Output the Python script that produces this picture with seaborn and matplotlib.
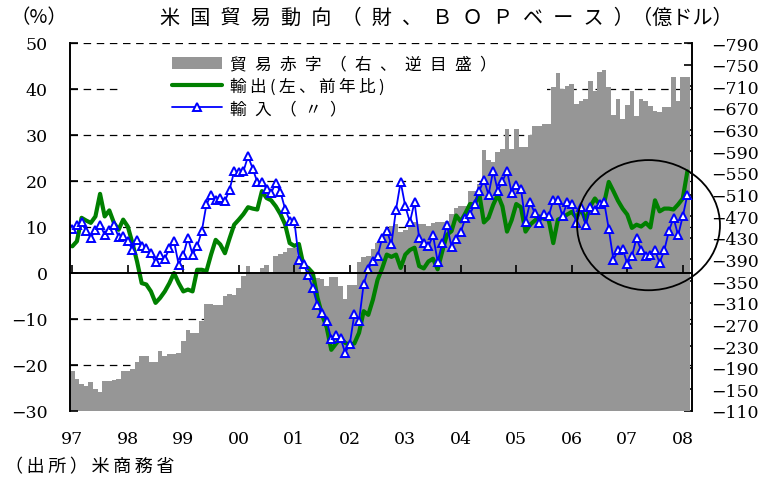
import numpy as np
import pandas as pd
import matplotlib
matplotlib.use("Agg")
import matplotlib.pyplot as plt
import matplotlib.transforms as mtransforms
from matplotlib.patches import Ellipse, Rectangle, Patch
from matplotlib.font_manager import FontProperties
import seaborn as sns

# Monthly data, Jan 1997 - Feb 2008
# exports / imports: year-on-year change (%), left axis
exports = [5.8, 6.9, 12.0, 11.4, 10.9, 12.3, 17.2, 12.3, 13.6, 10.9,
           9.4, 11.6, 10.1, 6.5, 2.5, -2.2, -2.5, -4.0, -6.5, -5.4,
           -4.0, -2.2, 0.0, -2.2, -4.0, -3.6, -4.0, 0.7, 0.7, 0.4,
           4.0, 7.2, 6.2, 4.3, 7.5, 10.5, 11.6, 12.8, 14.3, 14.0,
           13.8, 17.8, 16.3, 15.8, 14.5, 12.8, 10.6, 6.5, 5.9, 6.3,
           1.6, 1.1, 0.0, -5.3, -9.1, -11.8, -16.7, -15.4, -14.1, -15.2,
           -15.6, -15.3, -13.0, -8.3, -9.1, -5.8, -1.5, 1.0, 4.0, 3.5,
           4.0, 1.1, 4.0, 5.0, 5.5, 1.5, 1.0, 2.5, 3.1, 0.8,
           4.7, 8.3, 9.1, 12.5, 11.2, 13.0, 15.0, 14.9, 17.2, 11.0,
           12.0, 14.8, 17.0, 14.5, 9.0, 11.5, 15.0, 14.3, 9.0, 10.5,
           11.4, 12.3, 11.8, 11.6, 6.5, 11.6, 12.0, 12.7, 13.3, 12.0,
           14.0, 11.4, 14.5, 16.2, 14.9, 15.2, 19.8, 17.8, 15.7, 14.0,
           12.7, 9.8, 10.5, 10.1, 10.9, 9.9, 15.8, 13.4, 14.0, 14.0,
           13.8, 14.9, 16.2, 22.1]

imports = [9.6, 10.5, 11.0, 9.2, 7.6, 9.4, 10.5, 8.3, 9.4, 10.5,
           7.8, 8.1, 6.9, 5.1, 7.2, 5.8, 5.4, 4.3, 2.3, 4.0,
           3.1, 5.4, 6.9, 1.8, 4.0, 7.6, 4.0, 5.8, 9.1, 14.9,
           16.9, 15.9, 16.4, 15.6, 18.1, 22.1, 22.0, 22.1, 25.4, 22.7,
           19.8, 19.8, 18.3, 17.4, 19.6, 17.6, 14.0, 11.4, 11.4, 2.9,
           2.0, -0.5, -3.3, -6.9, -8.7, -10.4, -14.3, -13.4, -14.1, -17.4,
           -15.4, -8.9, -10.4, -2.4, 0.9, 2.7, 3.6, 7.6, 9.2, 6.2,
           13.8, 19.8, 14.5, 11.1, 15.4, 7.6, 6.5, 5.8, 8.2, 2.5,
           6.5, 10.5, 5.6, 7.5, 8.9, 12.0, 12.8, 15.0, 17.8, 20.3,
           17.0, 22.2, 17.9, 19.9, 22.2, 17.4, 19.2, 18.3, 11.1, 15.4,
           13.0, 10.9, 12.8, 12.3, 15.9, 15.9, 12.3, 15.4, 15.1, 10.9,
           14.3, 10.4, 14.3, 13.8, 14.9, 15.4, 9.6, 2.9, 4.9, 5.3,
           2.0, 3.6, 7.6, 4.9, 3.8, 4.0, 4.9, 2.2, 4.9, 9.1,
           12.0, 8.2, 12.3, 17.0]

# trade balance (100 million USD), right axis, inverted
deficit = [-184, -169, -160, -157, -163, -151, -146, -166, -166, -168,
           -169, -183, -183, -188, -201, -212, -212, -200, -201, -221,
           -211, -215, -215, -218, -240, -260, -255, -255, -277, -308,
           -308, -305, -305, -323, -326, -325, -338, -360, -378, -363,
           -363, -375, -380, -363, -397, -400, -403, -412, -412, -397,
           -366, -366, -354, -355, -354, -341, -358, -357, -341, -317,
           -343, -343, -386, -395, -397, -409, -421, -424, -434, -452,
           -455, -440, -445, -462, -460, -455, -455, -452, -458, -460,
           -460, -462, -474, -486, -489, -489, -517, -517, -529, -593,
           -573, -571, -588, -594, -631, -594, -631, -597, -597, -620,
           -637, -637, -640, -640, -708, -735, -705, -711, -714, -677,
           -683, -687, -720, -702, -737, -741, -708, -657, -687, -650,
           -675, -702, -656, -687, -683, -674, -665, -662, -672, -672,
           -727, -683, -727, -727]

year_labels = ["97", "98", "99", "00", "01", "02", "03", "04",
               "05", "06", "07", "08"]
left_ticks = [-30, -20, -10, 0, 10, 20, 30, 40, 50]
right_ticks = [-790, -750, -710, -670, -630, -590, -550, -510, -470,
               -430, -390, -350, -310, -270, -230, -190, -150, -110]
grid_levels = [-20, -10, 10, 20, 30, 40, 50]

df = pd.DataFrame({"month": np.arange(len(exports)), "exports": exports,
                   "imports": imports, "deficit": deficit})


def spaced(text, gap):
    # letter-spaced Japanese text, like the original layout
    return gap.join(text)


sns.set_theme(style="white", rc={"axes.edgecolor": "black",
                                 "text.color": "black",
                                 "xtick.color": "black",
                                 "ytick.color": "black"})
plt.rcParams["font.family"] = ["DejaVu Serif", "Noto Sans CJK JP"]
JP = ["Noto Sans CJK JP", "DejaVu Sans"]
EN_SP = "\u2002"
THIN_SP = "\u2009"

GRAY = "#969696"
GREEN = "#008000"
BLUE = "#0000ff"

fig = plt.figure(figsize=(7.8, 4.81), dpi=100)
ax = fig.add_axes([70 / 780, 69 / 481, 622 / 780, 368 / 481])
ax_bar = ax.twinx()
ax.set_zorder(ax_bar.get_zorder() + 1)
ax.patch.set_visible(False)

# dashed grid of the left axis, kept behind the bars
grid_tf = mtransforms.blended_transform_factory(ax_bar.transAxes, ax.transData)
for lvl in grid_levels:
    ax_bar.plot([0, 1], [lvl, lvl], transform=grid_tf, color="black",
                lw=0.9, ls=(0, (6, 4.5)), zorder=0.5)
# blank area under the legend
ax_bar.add_patch(Rectangle((0.084, 0.772), 0.683, 0.212,
                           transform=ax_bar.transAxes, facecolor="white",
                           edgecolor="none", zorder=0.8))

# trade deficit bars (right axis, reversed)
sns.barplot(data=df, x="month", y="deficit", native_scale=True, color=GRAY,
            saturation=1, width=1, linewidth=0, errorbar=None, ax=ax_bar,
            zorder=1)
ax_bar.set_ylim(-110, -790)
ax_bar.set_yticks(right_ticks)
ax_bar.set_ylabel("")

# export / import growth lines (left axis)
sns.lineplot(data=df, x="month", y="exports", color=GREEN, lw=3, ax=ax)
sns.lineplot(data=df, x="month", y="imports", color=BLUE, lw=1.3,
             marker="^", markersize=6, markerfacecolor="white",
             markeredgecolor=BLUE, markeredgewidth=1.4, ax=ax)
ax.set_ylim(-30, 50)
ax.set_yticks(left_ticks)
ax.set_xlim(-0.5, 134)
ax.set_xticks(df["month"][::12])
ax.set_xlabel("")
ax.set_ylabel("")

for side in ["top", "right"]:
    ax.spines[side].set_visible(False)
ax.spines["bottom"].set_position(("data", 0))
ax.spines["left"].set_linewidth(1.4)
ax.spines["bottom"].set_linewidth(1.4)
for side in ["top", "left", "bottom"]:
    ax_bar.spines[side].set_visible(False)
ax_bar.spines["right"].set_linewidth(1.4)

ax.tick_params(axis="y", direction="in", length=6, width=1.2, pad=16,
               labelsize=12.5, left=True, right=False)
ax.tick_params(axis="x", direction="in", length=6, width=1.2,
               bottom=True, labelbottom=False)
ax_bar.tick_params(axis="y", direction="in", length=6, width=1.2, pad=14,
                   labelsize=12.5, right=True, left=False,
                   labelright=True, labelleft=False)

# year labels under the plot area
lab_tf = mtransforms.blended_transform_factory(ax.transData, ax.transAxes)
for pos, lab in zip(df["month"][::12], year_labels):
    ax.text(pos, -0.076, lab, transform=lab_tf, ha="center", va="center",
            fontsize=12.5, clip_on=False)

# circle highlighting the latest period
ax.add_patch(Ellipse((124.6, 10.4), 30.9, 28.3, fill=False,
                     edgecolor="black", lw=1.3, clip_on=False, zorder=5))

handles = [Patch(facecolor=GRAY, edgecolor="none"), ax.lines[0], ax.lines[1]]
labels = [spaced("貿易赤字（右、逆目盛）", EN_SP),
          spaced("輸出(左、前年比)", THIN_SP),
          spaced("輸入（〃）", EN_SP)]
ax.legend(handles, labels, loc="upper left", bbox_to_anchor=(0.164, 0.965),
          frameon=False, borderpad=0, borderaxespad=0, handlelength=3,
          handletextpad=0.5, labelspacing=0.3,
          prop=FontProperties(family=JP, size=12))

fig.text(10 / 780, 1 - 18 / 481, "（%）", family=JP, fontsize=14,
         ha="left", va="center")
fig.text(160 / 780, 1 - 18 / 481, spaced("米国貿易動向（財、ＢＯＰベース）", EN_SP),
         family=JP, fontsize=14.5, ha="left", va="center")
fig.text(733 / 780, 1 - 18 / 481, "（億ドル）", family=JP, fontsize=14.5,
         ha="right", va="center")
fig.text(5 / 780, 1 - 467 / 481, spaced("（出所）米商務省", THIN_SP), family=JP,
         fontsize=13, ha="left", va="center")

fig.savefig("out.png", dpi=100)
